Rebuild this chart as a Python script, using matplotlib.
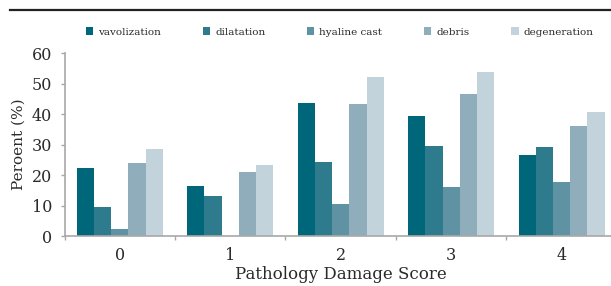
import matplotlib
matplotlib.use("Agg")
import matplotlib.pyplot as plt
from matplotlib.lines import Line2D
import numpy as np

# data
scores = ["0", "1", "2", "3", "4"]
vavolization = [22.4, 16.5, 43.6, 39.5, 26.7]
dilatation = [9.6, 13.0, 24.3, 29.5, 29.1]
hyaline_cast = [2.4, 0.0, 10.6, 16.1, 17.6]
debris = [23.9, 21.1, 43.2, 46.6, 36.1]
degeneration = [28.5, 23.3, 52.2, 53.9, 40.7]

series_names = ["vavolization", "dilatation", "hyaline cast", "debris", "degeneration"]
colors = ["#00667a", "#2e7b8d", "#5f92a3", "#90adbb", "#c3d3dc"]

plt.rcParams["font.family"] = ["DejaVu Serif"]

fig = plt.figure(figsize=(6.11, 2.86), dpi=100)
ax = fig.add_axes([0.1056, 0.1748, 0.904, 0.639])

x = np.arange(len(scores))
width = 0.156
all_series = [vavolization, dilatation, hyaline_cast, debris, degeneration]
for i, (vals, name, c) in enumerate(zip(all_series, series_names, colors)):
    ax.bar(x + (i - 2) * width, vals, width, color=c, label=name, linewidth=0)

ax.set_xlim(-0.5, 4.5)
ax.set_ylim(0, 60)
ax.set_yticks(range(0, 61, 10))
ax.set_xticks(x)
ax.set_xticklabels(scores)
ax.set_xticks(np.arange(-0.5, 4.0, 1.0), minor=True)

for s in ["top", "right"]:
    ax.spines[s].set_visible(False)
for s in ["left", "bottom"]:
    ax.spines[s].set_color("#a8a8a8")
    ax.spines[s].set_linewidth(1.2)

ax.tick_params(axis="y", length=3, width=1, color="#a8a8a8", pad=6,
               labelsize=11.5, labelcolor="#2a2a2a")
ax.tick_params(axis="x", which="major", length=0, pad=8,
               labelsize=11.5, labelcolor="#2a2a2a")
ax.tick_params(axis="x", which="minor", length=3, width=1, color="#a8a8a8")

ax.set_ylabel("Peroent (%)", fontsize=11, color="#2a2a2a", labelpad=4)
ax.set_xlabel("Pathology Damage Score", fontsize=12, color="#2a2a2a")
ax.xaxis.set_label_coords(0.5, -0.165)

fig.legend(loc="center", bbox_to_anchor=(0.556, 0.888), ncol=5, frameon=False,
           fontsize=7.5, handlelength=0.7, handleheight=0.7,
           handletextpad=0.5, columnspacing=4.0, labelcolor="#2a2a2a")

# rule across the top
fig.add_artist(Line2D([10 / 611, 1.0], [1 - 10.3 / 286] * 2, color="#222222",
                      linewidth=1.6, transform=fig.transFigure))

fig.savefig("out.png", dpi=100)
